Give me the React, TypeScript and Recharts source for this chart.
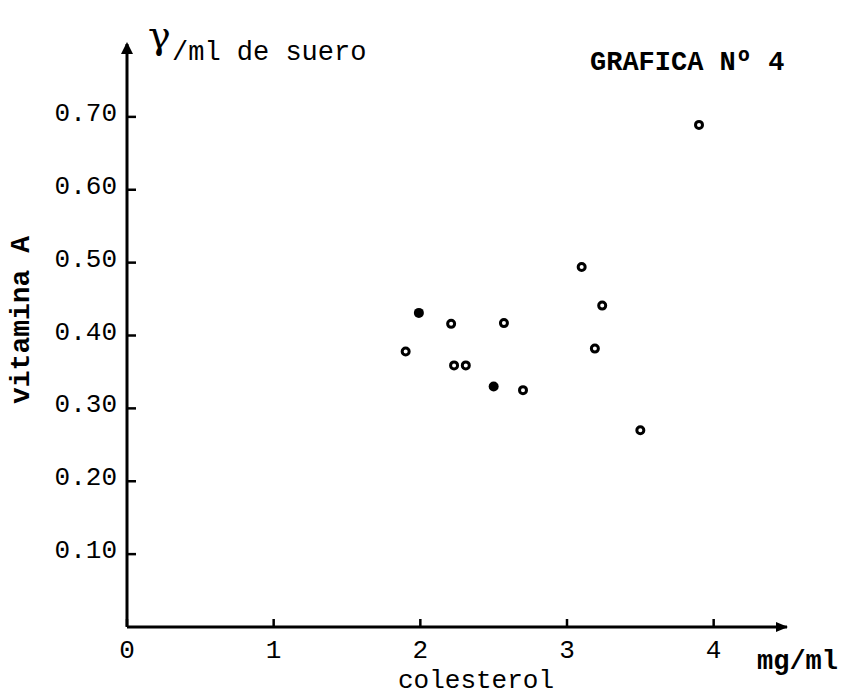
import React from "react";
import {
  ScatterChart, Scatter, XAxis, YAxis, ReferenceDot,
} from "recharts";

// valores (colesterol mg/ml, vitamina A γ/ml)
const openX = [1.90, 2.21, 2.23, 2.31, 2.57, 2.70, 3.10, 3.19, 3.24, 3.50, 3.90];
const openY = [0.378, 0.416, 0.359, 0.359, 0.417, 0.325, 0.494, 0.382, 0.441, 0.270, 0.689];
const filledX = [1.99, 2.50];
const filledY = [0.431, 0.330];

const xTicks = [0, 1, 2, 3, 4];
const yTicks = [0.1, 0.2, 0.3, 0.4, 0.5, 0.6, 0.7];

const openData = openX.map((x, i) => ({ x, y: openY[i] }));
const filledData = filledX.map((x, i) => ({ x, y: filledY[i] }));

const MONO = "'Liberation Mono', 'DejaVu Sans Mono', monospace";

const XTick = ({ x, y, payload }: any) => (
  <g>
    <line x1={x} y1={y - 1} x2={x} y2={y - 8} stroke="#000" strokeWidth={2.5} />
    <text x={x} y={y + 31} textAnchor="middle" fontSize={26} fontFamily={MONO} fill="#000">
      {payload.value}
    </text>
  </g>
);

const YTick = ({ x, y, payload }: any) => (
  <g>
    <line x1={x + 1} y1={y} x2={x + 9} y2={y} stroke="#000" strokeWidth={2.5} />
    <text x={x - 10} y={y + 4} textAnchor="end" fontSize={26} fontFamily={MONO} fill="#000">
      {payload.value.toFixed(2)}
    </text>
  </g>
);

const OpenDot = ({ cx, cy }: any) => (
  <circle cx={cx} cy={cy} r={3.5} fill="#fff" stroke="#000" strokeWidth={3} />
);
const FilledDot = ({ cx, cy }: any) => <circle cx={cx} cy={cy} r={5} fill="#000" />;

const UpArrow = ({ cx, cy }: any) => (
  <path d={`M${cx},${cy - 2} L${cx - 6},${cy + 10} L${cx + 6},${cy + 10} Z`} fill="#000" />
);
const RightArrow = ({ cx, cy }: any) => (
  <path d={`M${cx + 1},${cy} L${cx - 11},${cy - 5} L${cx - 11},${cy + 5} Z`} fill="#000" />
);

const txt: React.CSSProperties = {
  position: "absolute", fontFamily: MONO, color: "#000", whiteSpace: "nowrap", lineHeight: 1,
};

export default function App() {
  return (
    <div style={{ position: "absolute", left: 0, top: 0, width: 842, height: 699, background: "#fff", overflow: "hidden" }}>
      <ScatterChart width={842} height={699} margin={{ top: 44, right: 55, bottom: 0, left: 0 }}>
        <XAxis
          type="number" dataKey="x" domain={[0, 4.5]} ticks={xTicks}
          axisLine={{ stroke: "#000", strokeWidth: 3 }} tickLine={false}
          tickSize={0} tickMargin={0} height={72} tick={<XTick />}
          allowDataOverflow
        />
        <YAxis
          type="number" dataKey="y" domain={[0, 0.8]} ticks={yTicks}
          axisLine={{ stroke: "#000", strokeWidth: 3 }} tickLine={false}
          tickSize={0} tickMargin={0} width={127} tick={<YTick />}
          allowDataOverflow
        />
        <Scatter data={openData} shape={<OpenDot />} isAnimationActive={false} />
        <Scatter data={filledData} shape={<FilledDot />} isAnimationActive={false} />
        <ReferenceDot x={0} y={0.8} ifOverflow="visible" shape={<UpArrow />} />
        <ReferenceDot x={4.5} y={0} ifOverflow="visible" shape={<RightArrow />} />
      </ScatterChart>

      <div style={{ ...txt, left: 148, top: 16, fontSize: 38, fontFamily: "'DejaVu Serif', serif" }}>γ</div>
      <div style={{ ...txt, left: 172, top: 40, fontSize: 27 }}>/ml de suero</div>
      <div style={{ ...txt, left: 590, top: 50, fontSize: 27, fontWeight: "bold" }}>GRAFICA Nº 4</div>
      <div style={{ ...txt, left: 22, top: 320, fontSize: 28, fontWeight: "bold", transform: "translate(-50%, -50%) rotate(-90deg)" }}>
        vitamina A
      </div>
      <div style={{ ...txt, left: 398, top: 668, fontSize: 26 }}>colesterol</div>
      <div style={{ ...txt, left: 757, top: 649, fontSize: 27, fontWeight: "bold" }}>mg/ml</div>
    </div>
  );
}
